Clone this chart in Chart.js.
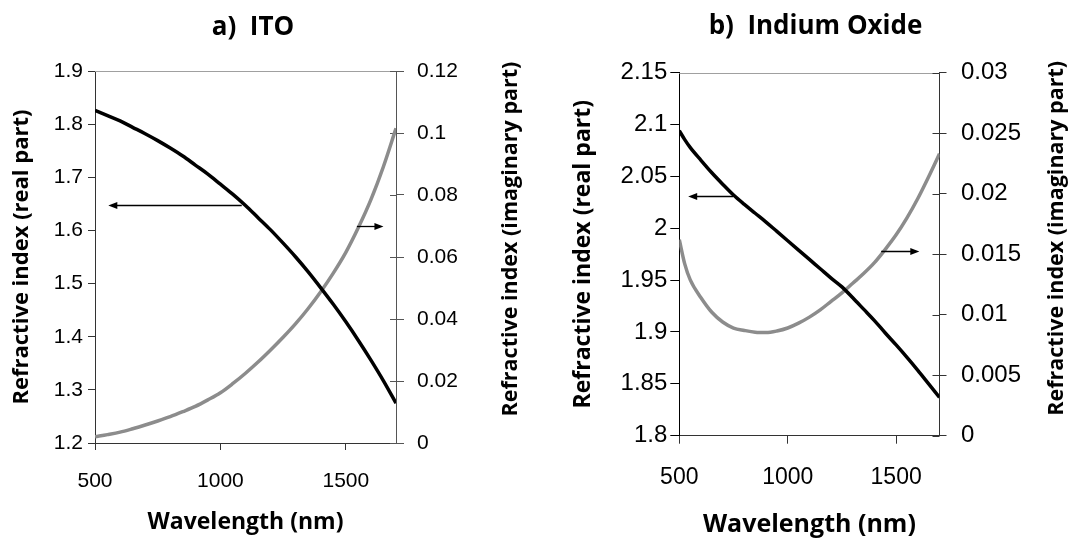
<!DOCTYPE html>
<html><head><meta charset="utf-8">
<script src="https://cdn.jsdelivr.net/npm/chart.js@4.4.1/dist/chart.umd.min.js"></script>
<style>
html,body{margin:0;padding:0;background:#fff;}
#wrap{position:relative;width:1071px;height:540px;overflow:hidden;background:#fff;}
canvas{position:absolute;top:0;}
#c1{left:0;}
#c2{left:535px;}
</style></head><body>
<div id="wrap"><canvas id="c1" width="535" height="540"></canvas><canvas id="c2" width="536" height="540"></canvas></div>
<script>
// ---------- a) ITO ----------
const itoWavelength = [500,550,600,650,700,750,800,850,900,950,1000,1050,1100,1150,1200,1250,1300,1350,1400,1450,1500,1550,1600,1650,1700];
const itoRealIndex = [1.826,1.816,1.806,1.794,1.782,1.769,1.755,1.740,1.723,1.706,1.687,1.668,1.647,1.624,1.601,1.576,1.550,1.522,1.492,1.461,1.428,1.393,1.356,1.317,1.275];
const itoImagIndex = [0.0020,0.0027,0.0035,0.0046,0.0058,0.0071,0.0085,0.0101,0.0118,0.0139,0.0162,0.0192,0.0225,0.0261,0.0300,0.0341,0.0385,0.0434,0.0488,0.0548,0.0615,0.0695,0.0785,0.0892,0.1015];
const itoWavelengthTicks = [500,1000,1500];
const itoRealTicks = [1.2,1.3,1.4,1.5,1.6,1.7,1.8,1.9];
const itoImagTicks = [0,0.02,0.04,0.06,0.08,0.1,0.12];
const itoArrows = [
  {axis:'y',  from:[1085,1.648], to:[553,1.648]},
  {axis:'y2', from:[1544,0.07],  to:[1650,0.07]}
];

// ---------- b) Indium Oxide ----------
const ioWavelength = [500,525,550,600,650,700,750,800,850,900,950,1000,1050,1100,1150,1200,1250,1300,1350,1400,1450,1500,1550,1600,1650,1700];
const ioRealIndex = [2.094,2.0855,2.078,2.0655,2.0535,2.0425,2.032,2.023,2.0145,2.006,1.997,1.988,1.979,1.970,1.961,1.952,1.9435,1.933,1.922,1.911,1.899,1.8875,1.8755,1.863,1.850,1.837];
const ioImagIndex = [0.0162,0.0142,0.0129,0.0114,0.0102,0.0094,0.0089,0.0087,0.00855,0.00852,0.00865,0.0089,0.0093,0.0098,0.0104,0.0111,0.0118,0.0126,0.0134,0.0143,0.0154,0.0166,0.0180,0.0196,0.0214,0.0233];
const ioWavelengthTicks = [500,1000,1500];
const ioRealTicks = [1.8,1.85,1.9,1.95,2,2.05,2.1,2.15];
const ioImagTicks = [0,0.005,0.01,0.015,0.02,0.025,0.03];
const ioArrows = [
  {axis:'y',  from:[748,2.031],   to:[541,2.031]},
  {axis:'y2', from:[1431,0.0153], to:[1607,0.0153]}
];

const TITLE_FONT = '"Open Sans", "DejaVu Sans", sans-serif';
const TICK_FONT = '"Liberation Sans", Arial, sans-serif';

const arrowPlugin = {
  id: 'arrows',
  afterDatasetsDraw(chart, args, o) {
    const ctx = chart.ctx, xs = chart.scales.x;
    (o.list || []).forEach(a => {
      const ys = chart.scales[a.axis];
      const x1 = xs.getPixelForValue(a.from[0]), y1 = Math.round(ys.getPixelForValue(a.from[1])) + 0.5;
      const x2 = xs.getPixelForValue(a.to[0]),   y2 = Math.round(ys.getPixelForValue(a.to[1])) + 0.5;
      const ang = Math.atan2(y2 - y1, x2 - x1), hl = 9, hw = 3.5;
      ctx.save();
      ctx.strokeStyle = '#000'; ctx.fillStyle = '#000'; ctx.lineWidth = 1.3;
      ctx.beginPath(); ctx.moveTo(x1, y1);
      ctx.lineTo(x2 - Math.cos(ang) * hl * 0.7, y2 - Math.sin(ang) * hl * 0.7); ctx.stroke();
      ctx.beginPath(); ctx.moveTo(x2, y2);
      ctx.lineTo(x2 - hl * Math.cos(ang) + hw * Math.sin(ang), y2 - hl * Math.sin(ang) - hw * Math.cos(ang));
      ctx.lineTo(x2 - hl * Math.cos(ang) - hw * Math.sin(ang), y2 - hl * Math.sin(ang) + hw * Math.cos(ang));
      ctx.closePath(); ctx.fill();
      ctx.restore();
    });
  }
};

const framePlugin = {
  id: 'frame',
  beforeDatasetsDraw(chart, args, o) {
    const ctx = chart.ctx, a = chart.chartArea, s = chart.scales.y2;
    ctx.save();
    ctx.lineWidth = 1;
    ctx.strokeStyle = o.topColor;
    ctx.beginPath(); ctx.moveTo(a.left, Math.round(a.top) + 0.5); ctx.lineTo(a.right, Math.round(a.top) + 0.5); ctx.stroke();
    ctx.strokeStyle = o.tickColor;
    const xr = s.left;
    s.ticks.forEach(t => {
      const y = Math.round(s.getPixelForValue(t.value)) + 0.5;
      ctx.beginPath(); ctx.moveTo(xr - o.inner, y); ctx.lineTo(xr, y); ctx.stroke();
    });
    ctx.restore();
  },
  afterDraw(chart, args, o) {
    const ctx = chart.ctx;
    ctx.save();
    ctx.translate(o.titleX, o.titleY);
    ctx.rotate(-Math.PI / 2);
    ctx.font = 'bold ' + o.titleSize + 'px ' + TITLE_FONT;
    ctx.fillStyle = '#000'; ctx.textAlign = 'center'; ctx.textBaseline = 'middle';
    ctx.fillText(o.titleText, 0, 0);
    ctx.restore();
  }
};

function setTicks(values) {
  return scale => { scale.ticks = values.map(v => ({ value: v })); };
}

function makeChart(id, c) {
  const toXY = (xs, ys) => xs.map((x, i) => ({ x: x, y: ys[i] }));
  return new Chart(document.getElementById(id), {
    type: 'line',
    data: {
      datasets: [
        { data: toXY(c.wl, c.real), yAxisID: 'y', borderColor: '#000000', borderWidth: 3.5,
          pointRadius: 0, cubicInterpolationMode: 'monotone', fill: false },
        { data: toXY(c.wl, c.imag), yAxisID: 'y2', borderColor: '#8c8c8c', borderWidth: 3.5,
          pointRadius: 0, cubicInterpolationMode: 'monotone', fill: false }
      ]
    },
    plugins: [arrowPlugin, framePlugin],
    options: {
      responsive: false, animation: false, devicePixelRatio: 1,
      layout: { padding: c.pad },
      events: [],
      plugins: {
        legend: { display: false }, tooltip: { enabled: false },
        title: { display: true, text: c.title, color: '#000',
          font: { family: TITLE_FONT, size: 26, weight: 'bold' }, padding: c.titlePad },
        arrows: { list: c.arrows },
        frame: { topColor: '#a0a0a0', tickColor: c.rightColor, inner: c.inner,
          titleText: 'Refractive index (imaginary part)', titleX: c.rtX, titleY: c.rtY, titleSize: c.rtSize }
      },
      scales: {
        x: {
          type: 'linear', position: 'bottom', min: 500, max: 1700,
          afterBuildTicks: setTicks(c.xTicks),
          afterFit: s => { s.height = c.xH; },
          grid: { display: true, drawOnChartArea: false, drawTicks: true, tickLength: c.xTl, color: '#333' },
          border: { display: true, color: '#333', width: 1 },
          ticks: { color: '#000', padding: c.xPad, maxRotation: 0, font: { family: TICK_FONT, size: c.xTickSize },
            callback: v => String(v) },
          title: { display: true, text: 'Wavelength (nm)', color: '#000',
            font: { family: TITLE_FONT, size: c.xTitleSize, weight: 'bold' }, padding: { top: 0, bottom: c.xTitlePadB } }
        },
        y: {
          type: 'linear', position: 'left', min: c.realMin, max: c.realMax,
          afterBuildTicks: setTicks(c.realTicks),
          afterFit: s => { s.width = c.yW; },
          grid: { display: true, drawOnChartArea: false, drawTicks: true, tickLength: c.yTl, color: c.leftColor },
          border: { display: true, color: c.leftColor, width: 1 },
          ticks: { color: '#000', padding: c.yPad, font: { family: TICK_FONT, size: c.yTickSize },
            callback: v => String(v) },
          title: { display: true, text: 'Refractive index (real part)', color: '#000',
            font: { family: TITLE_FONT, size: c.yTitleSize, weight: 'bold' }, padding: { top: c.yTitlePadT, bottom: 0 } }
        },
        y2: {
          type: 'linear', position: 'right', min: 0, max: c.imagMax,
          afterBuildTicks: setTicks(c.imagTicks),
          afterFit: s => { s.width = c.y2W; },
          grid: { display: true, drawOnChartArea: false, drawTicks: true, tickLength: c.y2Tl, color: c.rightColor },
          border: { display: true, color: c.rightColor, width: 1 },
          ticks: { color: '#000', padding: c.y2Pad, font: { family: TICK_FONT, size: c.yTickSize },
            callback: v => String(v) },
          title: { display: false }
        }
      }
    }
  });
}

makeChart('c1', {
  title: 'a)  ITO', titlePad: { top: 12, bottom: 27.8 },
  wl: itoWavelength, real: itoRealIndex, imag: itoImagIndex, arrows: itoArrows,
  xTicks: itoWavelengthTicks, realTicks: itoRealTicks, imagTicks: itoImagTicks,
  realMin: 1.2, realMax: 1.9, imagMax: 0.12,
  pad: { left: 0, right: 29, top: 0, bottom: 0 },
  xH: 97, xTl: 7, xPad: 19, xTickSize: 21, xTitleSize: 23, xTitlePadB: 4,
  yW: 95, yTl: 7, yPad: 5, yTickSize: 21, yTitleSize: 22, yTitlePadT: 9,
  y2W: 110, y2Tl: 8, y2Pad: 13, inner: 6,
  leftColor: '#333333', rightColor: '#555555',
  rtX: 510.5, rtY: 239, rtSize: 21.5
});

makeChart('c2', {
  title: 'b)  Indium Oxide', titlePad: { top: 11, bottom: 30.5 },
  wl: ioWavelength, real: ioRealIndex, imag: ioImagIndex, arrows: ioArrows,
  xTicks: ioWavelengthTicks, realTicks: ioRealTicks, imagTicks: ioImagTicks,
  realMin: 1.8, realMax: 2.15, imagMax: 0.03,
  pad: { left: 25, right: 0, top: 0, bottom: 0 },
  xH: 104.3, xTl: 8, xPad: 20, xTickSize: 23, xTitleSize: 25, xTitlePadB: 0,
  yW: 119.3, yTl: 9, yPad: 3, yTickSize: 24, yTitleSize: 23, yTitlePadT: 9.5,
  y2W: 131.5, y2Tl: 7, y2Pad: 14.5, inner: 7,
  leftColor: '#000000', rightColor: '#333333',
  rtX: 522, rtY: 238.3, rtSize: 21.5
});
</script>
</body></html>
